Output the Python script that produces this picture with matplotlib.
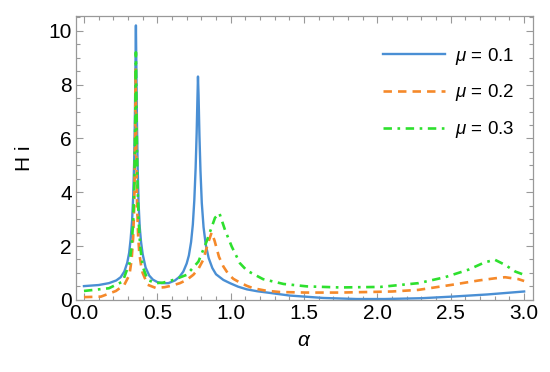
import matplotlib
matplotlib.use("Agg")
from matplotlib import pyplot as plt
from matplotlib.ticker import MultipleLocator

plt.rcParams['font.family'] = ['Liberation Sans', 'DejaVu Sans']
plt.rcParams['mathtext.fontset'] = 'custom'
plt.rcParams['mathtext.it'] = 'Liberation Sans:italic'
plt.rcParams['mathtext.rm'] = 'Liberation Sans'

# mu = 0.1
x1 = [0, 0.1, 0.17, 0.22, 0.25, 0.275, 0.295, 0.308, 0.318, 0.328, 0.336, 0.342, 0.347,
      0.351, 0.354, 0.357, 0.361, 0.366, 0.372, 0.380, 0.389, 0.40, 0.42, 0.445, 0.47,
      0.50, 0.53, 0.575, 0.62, 0.65, 0.677, 0.70, 0.715, 0.73, 0.742, 0.752, 0.761,
      0.768, 0.773, 0.777, 0.781, 0.787, 0.794, 0.803, 0.815, 0.83, 0.85, 0.875, 0.9,
      0.95, 0.995, 1.05, 1.11, 1.18, 1.25, 1.40, 1.63, 1.86, 2.05, 2.3, 2.51, 2.75, 3.0]
y1 = [0.51, 0.55, 0.62, 0.72, 0.84, 1.05, 1.38, 1.75, 2.25, 2.95, 3.9, 5.1, 6.7,
      8.7, 10.2, 8.7, 6.6, 4.9, 3.6, 2.7, 2.15, 1.7, 1.2, 0.9, 0.75,
      0.66, 0.62, 0.62, 0.72, 0.85, 1.05, 1.35, 1.65, 2.15, 2.8, 3.7, 4.9,
      6.2, 7.4, 8.3, 7.6, 6.1, 4.8, 3.6, 2.7, 2.05, 1.55, 1.18, 0.95,
      0.74, 0.62, 0.49, 0.39, 0.32, 0.27, 0.16, 0.07, 0.03, 0.03, 0.06, 0.12, 0.2, 0.31]

# mu = 0.2
x2 = [0, 0.116, 0.218, 0.275, 0.31, 0.325, 0.335, 0.342, 0.347, 0.350, 0.352, 0.354,
      0.357, 0.362, 0.369, 0.377, 0.39, 0.40, 0.434, 0.49, 0.55, 0.60, 0.654, 0.70,
      0.745, 0.78, 0.813, 0.845, 0.87, 0.89, 0.92, 0.95, 0.985, 1.018, 1.063, 1.11,
      1.154, 1.24, 1.336, 1.518, 1.745, 2.02, 2.10, 2.28, 2.51, 2.69, 2.80, 2.87,
      2.96, 3.0]
y2 = [0.1, 0.12, 0.33, 0.56, 0.93, 1.5, 2.3, 3.4, 5.0, 6.8, 8.6, 7.2,
      5.2, 3.5, 2.4, 1.74, 1.25, 1.0, 0.56, 0.44, 0.47, 0.53, 0.62, 0.74,
      0.93, 1.15, 1.49, 2.1, 2.5, 2.2, 1.6, 1.24, 0.95, 0.78, 0.64, 0.52,
      0.43, 0.34, 0.29, 0.27, 0.27, 0.3, 0.31, 0.37, 0.56, 0.72, 0.8, 0.84,
      0.77, 0.7]

# mu = 0.3
x3 = [0, 0.17, 0.264, 0.31, 0.325, 0.335, 0.343, 0.349, 0.354, 0.359, 0.365, 0.373,
      0.383, 0.40, 0.434, 0.49, 0.54, 0.61, 0.70, 0.78, 0.836, 0.893, 0.923, 0.961,
      1.007, 1.063, 1.11, 1.22, 1.36, 1.52, 1.745, 2.02, 2.28, 2.46, 2.62, 2.73,
      2.80, 2.87, 2.94, 3.0]
y3 = [0.33, 0.43, 0.68, 1.37, 2.0, 2.9, 4.3, 6.5, 9.2, 6.5, 4.3, 2.9,
      2.0, 1.24, 0.74, 0.62, 0.64, 0.74, 0.93, 1.42, 2.17, 3.05, 3.22, 2.6,
      1.98, 1.36, 1.09, 0.77, 0.59, 0.5, 0.46, 0.48, 0.62, 0.84, 1.12, 1.39,
      1.49, 1.3, 1.05, 0.93]

labels = [r'$\mu$ = 0.1', r'$\mu$ = 0.2', r'$\mu$ = 0.3']

fig = plt.figure(figsize=(5.5, 3.72), dpi=100)
ax = fig.add_axes([0.138, 0.194, 0.831, 0.763])

ax.plot(x1, y1, color='#4a8fd4', lw=1.7, label=labels[0])
ax.plot(x2, y2, color='#f5892a', lw=1.9, dashes=(3.2, 2.3), label=labels[1])
ax.plot(x3, y3, color='#2ee02e', lw=1.9, dashes=(3.2, 2.1, 1, 2.1), label=labels[2])

ax.set_xlim(-0.055, 3.06)
ax.set_ylim(0, 10.55)
ax.xaxis.set_major_locator(MultipleLocator(0.5))
ax.xaxis.set_minor_locator(MultipleLocator(0.1))
ax.yaxis.set_major_locator(MultipleLocator(2))
ax.yaxis.set_minor_locator(MultipleLocator(0.5))
ax.set_xticks([0, 0.5, 1.0, 1.5, 2.0, 2.5, 3.0])
ax.set_xticklabels(['0.0', '0.5', '1.0', '1.5', '2.0', '2.5', '3.0'])

for s in ax.spines.values():
    s.set_color('#999999')
    s.set_linewidth(0.9)
ax.tick_params(which='both', direction='in', top=True, right=True, color='#999999', width=0.8)
ax.tick_params(which='major', length=5, labelsize=15, pad=3)
ax.tick_params(which='minor', length=3)

ax.set_xlabel(r'$\alpha$', fontsize=15, labelpad=6)
ax.set_ylabel('H i', fontsize=15, labelpad=10)

ax.legend(loc='upper left', bbox_to_anchor=(0.635, 0.955), frameon=False, fontsize=13.5,
          handlelength=3.3, handletextpad=0.55, labelspacing=0.84)

fig.savefig('out.png', dpi=100)
